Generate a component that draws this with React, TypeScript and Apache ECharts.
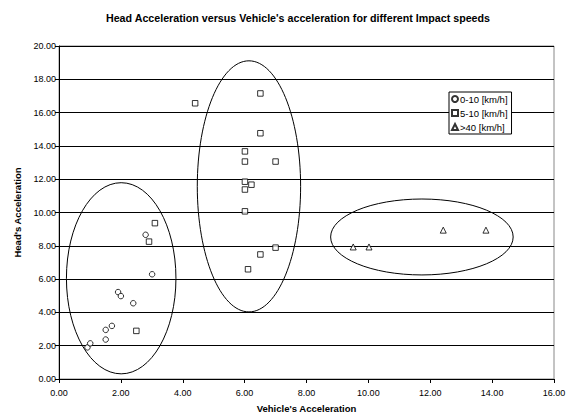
import React, { useEffect, useRef } from "react";
import * as echarts from "echarts";

const titleText = "Head Acceleration versus Vehicle's acceleration for different Impact speeds";
const xName = "Vehicle's Acceleration";
const yName = "Head's Acceleration";

const seriesNames = ["0-10 [km/h]", "5-10 [km/h]", ">40 [km/h]"];

const lowSpeed: [number, number][] = [
  [0.92, 1.9], [1.01, 2.14], [1.51, 2.37], [1.51, 2.95], [1.71, 3.19],
  [1.91, 5.22], [2.0, 4.98], [2.4, 4.55], [2.8, 8.66], [3.01, 6.29],
];

const midSpeed: [number, number][] = [
  [3.1, 9.36], [2.91, 8.25], [2.5, 2.89], [4.4, 16.56], [6.51, 17.15],
  [6.51, 14.76], [6.01, 13.67], [6.01, 13.06], [7.0, 13.06], [6.01, 11.85],
  [6.22, 11.67], [6.01, 11.38], [6.01, 10.07], [7.0, 7.89], [6.51, 7.48],
  [6.11, 6.59],
];

const highSpeed: [number, number][] = [
  [9.51, 7.93], [10.02, 7.93], [12.42, 8.94], [13.8, 8.94],
];

// ellipses: [centerX, centerY, radiusX, radiusY] in data units
const ellipses: [number, number, number, number][] = [
  [2.01, 6.05, 1.77, 5.74],
  [6.14, 11.57, 1.67, 7.54],
  [11.73, 8.53, 2.95, 2.28],
];

const font = "Liberation Sans, Arial, sans-serif";

export default function App() {
  const ref = useRef<HTMLDivElement>(null);
  useEffect(() => {
    if (!ref.current) return;
    const chart = echarts.init(ref.current, null, { renderer: "svg" });
    const markerStyle = { color: "#fff", borderColor: "#000", borderWidth: 1 };
    chart.setOption({
      animation: false,
      backgroundColor: "#fff",
      textStyle: { fontFamily: font },
      title: {
        text: titleText,
        left: 293,
        textAlign: "center",
        top: 7,
        textStyle: { fontSize: 10.7, fontWeight: "bold", color: "#000", fontFamily: font },
      },
      legend: {
        data: seriesNames,
        orient: "vertical",
        left: 449,
        top: 92,
        itemWidth: 6,
        itemHeight: 6,
        itemGap: 2,
        padding: [1, 4, 1, 2],
        borderColor: "#000",
        borderWidth: 1,
        backgroundColor: "#fff",
        textStyle: {
          fontSize: 9.5,
          lineHeight: 12,
          color: "#000",
          fontFamily: font,
          padding: [0, 0, 0, -3],
        },
      },
      grid: {
        left: 59,
        right: 17,
        top: 46,
        bottom: 35,
        show: true,
        borderColor: "#888",
        borderWidth: 1,
      },
      xAxis: {
        type: "value",
        min: 0,
        max: 16,
        interval: 2,
        name: xName,
        nameLocation: "middle",
        nameGap: 24,
        nameTextStyle: { fontSize: 9.5, fontWeight: "bold", color: "#000", fontFamily: font },
        axisLine: { show: true, lineStyle: { color: "#000" } },
        axisTick: { show: true, length: 4, lineStyle: { color: "#000" } },
        axisLabel: {
          fontSize: 9,
          color: "#000",
          margin: 9,
          formatter: (v: number) => v.toFixed(2),
        },
        splitLine: { show: false },
      },
      yAxis: {
        type: "value",
        min: 0,
        max: 20,
        interval: 2,
        name: yName,
        nameLocation: "middle",
        nameGap: 35,
        nameTextStyle: { fontSize: 9.5, fontWeight: "bold", color: "#000", fontFamily: font },
        axisLine: { show: true, lineStyle: { color: "#000" } },
        axisTick: { show: true, length: 4, lineStyle: { color: "#000" } },
        axisLabel: {
          fontSize: 9,
          color: "#000",
          margin: 3,
          formatter: (v: number) => v.toFixed(2),
        },
        splitLine: { show: true, lineStyle: { color: "#000", width: 1 } },
      },
      series: [
        {
          type: "custom",
          silent: true,
          data: ellipses,
          renderItem: (_params: any, api: any) => {
            const c = api.coord([api.value(0), api.value(1)]);
            const s = api.size([api.value(2), api.value(3)]);
            return {
              type: "ellipse",
              shape: { cx: c[0], cy: c[1], rx: s[0], ry: s[1] },
              style: { fill: "none", stroke: "#000", lineWidth: 1 },
            };
          },
          z: 1,
        },
        {
          name: seriesNames[0],
          type: "scatter",
          symbol: "circle",
          symbolSize: 5.5,
          itemStyle: markerStyle,
          data: lowSpeed,
          z: 3,
        },
        {
          name: seriesNames[1],
          type: "scatter",
          symbol: "rect",
          symbolSize: 5.5,
          itemStyle: markerStyle,
          data: midSpeed,
          z: 3,
        },
        {
          name: seriesNames[2],
          type: "scatter",
          symbol: "triangle",
          symbolSize: 6,
          itemStyle: markerStyle,
          data: highSpeed,
          z: 3,
        },
      ],
    });
    return () => chart.dispose();
  }, []);
  return <div ref={ref} style={{ width: 571, height: 418, position: "absolute", left: 0, top: 0 }} />;
}
